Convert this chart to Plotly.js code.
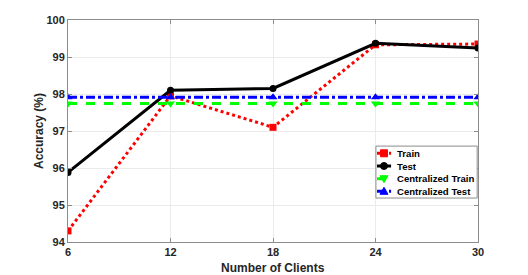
<!DOCTYPE html>
<html><head><meta charset="utf-8">
<script src="https://cdn.plot.ly/plotly-3.0.1.min.js"></script>
<style>html,body{margin:0;padding:0;background:#fff}#c{width:528px;height:275px}</style>
</head><body><div id="c"></div>
<script>
const clients = [6, 12, 18, 24, 30];
const trainAcc = [94.3, 97.95, 97.1, 99.33, 99.35];
const testAcc = [95.88, 98.1, 98.15, 99.37, 99.24];
const centralTrain = [97.74, 97.74, 97.74, 97.74, 97.74];
const centralTest = [97.91, 97.91, 97.91, 97.91, 97.91];
const yTicks = [94, 95, 96, 97, 98, 99, 100];
const seriesNames = ['Train', 'Test', 'Centralized Train', 'Centralized Test'];
const seriesColors = ['#ff0000', '#000000', '#00ff00', '#0000ff'];
const seriesDash = ['dot', 'solid', 'dash', 'dashdot'];
const seriesSymbols = ['square', 'circle', 'triangle-down', 'triangle-up'];
const seriesData = [trainAcc, testAcc, centralTrain, centralTest];
const xTitle = 'Number of Clients';
const yTitle = 'Accuracy (%)';

const traces = seriesData.map((ys, i) => ({
  x: clients, y: ys, name: seriesNames[i], mode: 'lines+markers',
  line: {color: seriesColors[i], width: 3, dash: seriesDash[i]},
  marker: {symbol: seriesSymbols[i], size: i < 2 ? 7 : 8, color: seriesColors[i]}
}));

const titleFont = {family: 'Liberation Sans, Arial, sans-serif', size: 12, color: '#262626', weight: 'bold'};

// custom compact legend (paper coordinates of plot area)
const lgX0 = 0.751, lgX1 = 0.998, lgY0 = 0.198, lgY1 = 0.432;
const rowY = [0.3995, 0.3423, 0.2851, 0.2284];
const sampleX0 = 0.7537, sampleX1 = 0.788, markX = 0.7707, textX = 0.7976;
const shapes = [{type: 'rect', xref: 'paper', yref: 'paper', x0: lgX0, x1: lgX1, y0: lgY0, y1: lgY1,
  fillcolor: '#fff', line: {color: '#8c8c8c', width: 1}}];
const annotations = [
  {xref: 'paper', yref: 'paper', x: 0.5, y: -0.117, xanchor: 'center', yanchor: 'middle',
   text: xTitle, showarrow: false, font: titleFont},
  {xref: 'paper', yref: 'paper', x: -0.0707, y: 0.5, xanchor: 'center', yanchor: 'middle',
   text: yTitle, showarrow: false, textangle: -90, font: titleFont}
];
function markerShape(sym, color, yc) {
  const base = {xref: 'paper', yref: 'paper', xsizemode: 'pixel', ysizemode: 'pixel', xanchor: markX, yanchor: yc,
    fillcolor: color, line: {color: color, width: 1}};
  if (sym === 'square') return Object.assign(base, {type: 'rect', x0: -3.5, x1: 3.5, y0: -3.5, y1: 3.5});
  if (sym === 'circle') return Object.assign(base, {type: 'circle', x0: -3.5, x1: 3.5, y0: -3.5, y1: 3.5});
  if (sym === 'triangle-down') return Object.assign(base, {type: 'path', path: 'M-4,3 L4,3 L0,-4 Z'});
  return Object.assign(base, {type: 'path', path: 'M-4,-3 L4,-3 L0,4 Z'});
}
seriesNames.forEach((n, i) => {
  shapes.push({type: 'line', xref: 'paper', yref: 'paper', x0: sampleX0, x1: sampleX1, y0: rowY[i], y1: rowY[i],
    line: {color: seriesColors[i], width: 3, dash: seriesDash[i]}});
  shapes.push(markerShape(seriesSymbols[i], seriesColors[i], rowY[i]));
  annotations.push({xref: 'paper', yref: 'paper', x: textX, y: rowY[i], xanchor: 'left', yanchor: 'middle',
    text: n, showarrow: false,
    font: {family: 'Liberation Sans, Arial, sans-serif', size: 9.6, color: '#000', weight: 'bold'}});
});

const fontB = {family: 'Liberation Sans, Arial, sans-serif', size: 11, color: '#262626', weight: 'bold'};
const layout = {
  width: 528, height: 275,
  margin: {l: 68, r: 50, t: 20, b: 33},
  paper_bgcolor: '#fff', plot_bgcolor: '#fff',
  showlegend: false,
  font: fontB,
  xaxis: {range: [6, 30], tickvals: clients, ticktext: clients.map(String),
    showgrid: true, gridcolor: '#ebebeb', zeroline: false,
    showline: true, linecolor: '#8c8c8c', linewidth: 1, mirror: 'ticks',
    ticks: 'inside', ticklen: 4, tickcolor: '#8c8c8c',
    tickfont: fontB, automargin: false},
  yaxis: {range: [94, 100], tickvals: yTicks, ticktext: yTicks.map(String),
    showgrid: true, gridcolor: '#ebebeb', zeroline: false,
    showline: true, linecolor: '#8c8c8c', linewidth: 1, mirror: 'ticks',
    ticks: 'inside', ticklen: 4, tickcolor: '#8c8c8c',
    tickfont: fontB, automargin: false},
  shapes: shapes,
  annotations: annotations
};
Plotly.newPlot('c', traces, layout, {displayModeBar: false, staticPlot: true});
</script></body></html>
